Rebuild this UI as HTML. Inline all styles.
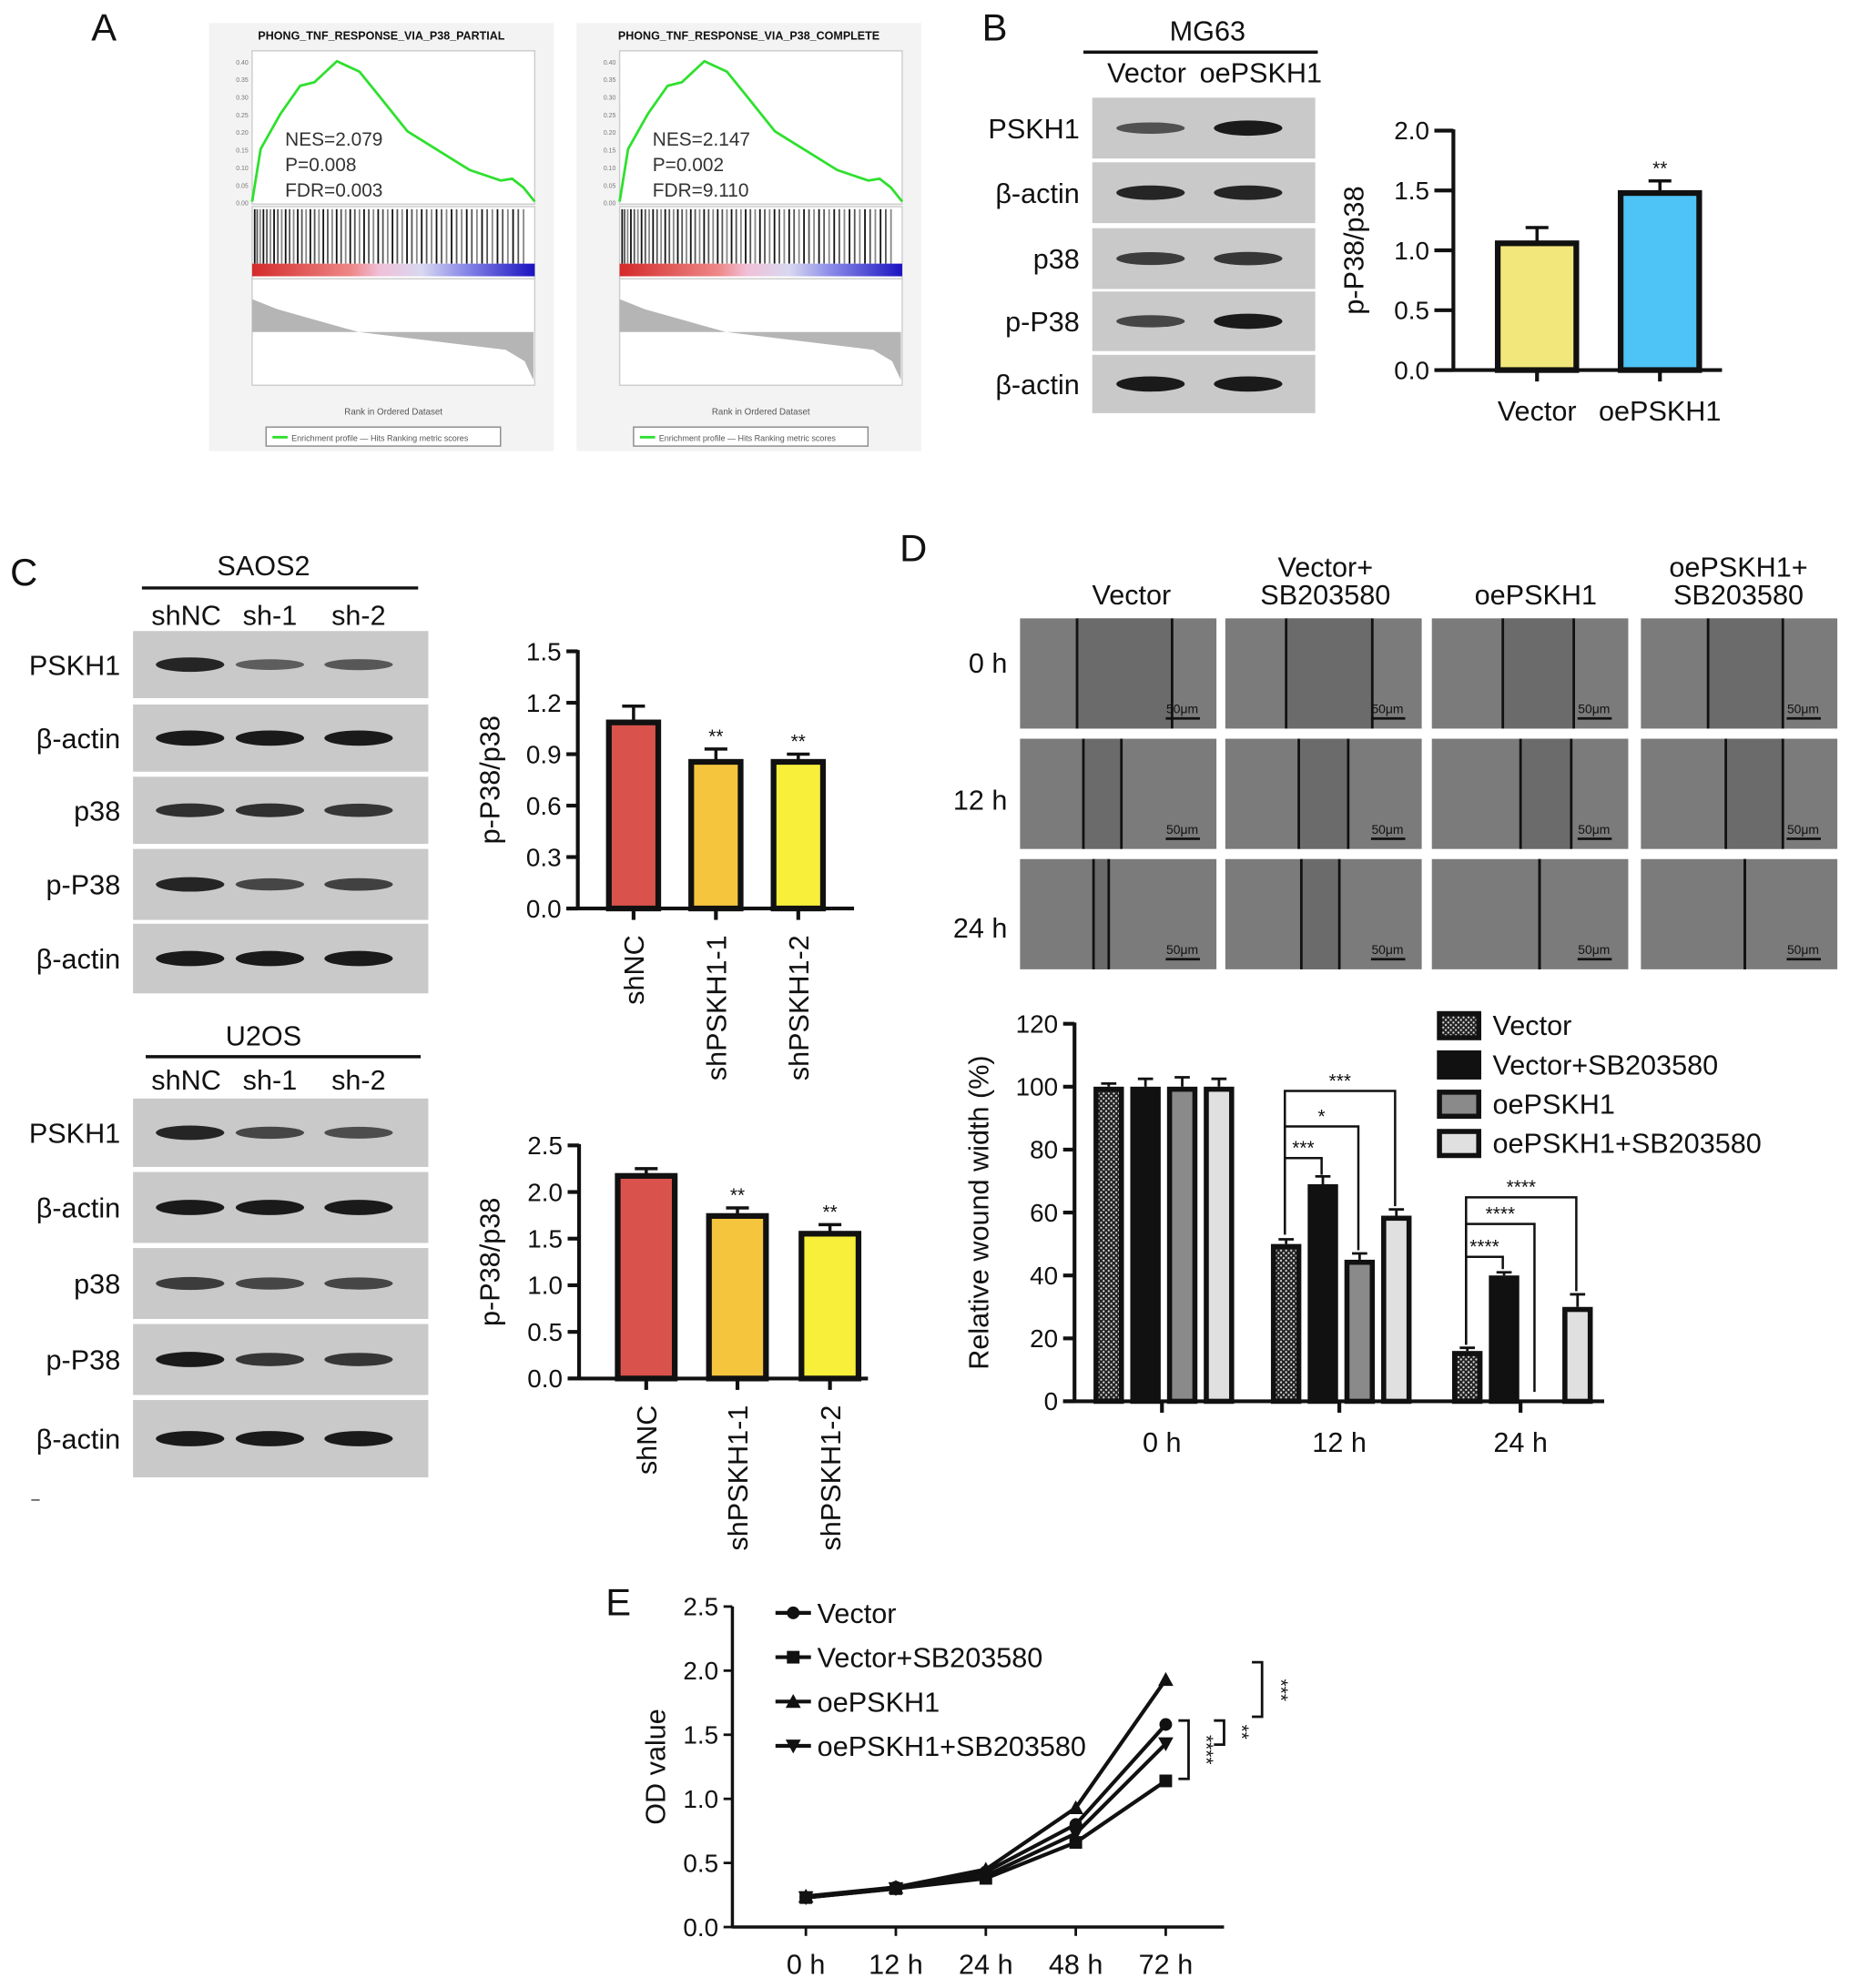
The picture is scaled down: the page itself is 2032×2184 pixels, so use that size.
<!DOCTYPE html>
<html><head><meta charset="utf-8">
<style>
html,body{margin:0;padding:0;background:#fff;}
svg{display:block;font-family:"Liberation Sans",Arial,sans-serif;}
</style></head>
<body>
<svg id="fig" width="2032" height="2184" viewBox="0 0 1460 1569" xmlns="http://www.w3.org/2000/svg">
<defs>
<pattern id="dots" width="4" height="4" patternUnits="userSpaceOnUse"><rect width="4" height="4" fill="#222"/><circle cx="1" cy="1" r="0.8" fill="#ddd"/><circle cx="3" cy="3" r="0.8" fill="#ddd"/></pattern>
</defs>
<g id="root"></g>
</svg>
<script>
// ===== data =====
const bCats = ["Vector","oePSKH1"];
const bVals = [1.08,1.5];
const bErr = [0.11,0.08];
const c1Cats = ["shNC","shPSKH1-1","shPSKH1-2"];
const c1Vals = [1.1,0.87,0.87];
const c1Err = [0.08,0.06,0.03];
const c2Vals = [2.2,1.77,1.58];
const c2Err = [0.05,0.06,0.07];
const dGroups = ["0 h","12 h","24 h"];
const dSeries = ["Vector","Vector+SB203580","oePSKH1","oePSKH1+SB203580"];
const dVals = [[100,50,16],[100,69,40],[100,45,0],[100,59,30]];
const dErr = [[1,1.5,1],[2.5,2.5,1],[3,2,0],[2.5,2,4]];
const eTimes = ["0 h","12 h","24 h","48 h","72 h"];
const eVector = [0.23,0.31,0.43,0.80,1.58];
const eVecSB = [0.23,0.30,0.38,0.66,1.14];
const eOe = [0.24,0.31,0.45,0.93,1.93];
const eOeSB = [0.23,0.30,0.40,0.73,1.43];
const esRank = [0,0.03,0.1,0.17,0.22,0.3,0.38,0.45,0.55,0.65,0.77,0.88,0.92,0.96,1];
const esVals = [0,0.15,0.25,0.33,0.34,0.4,0.37,0.3,0.2,0.15,0.09,0.06,0.065,0.04,0];

const NS="http://www.w3.org/2000/svg";
const root=document.getElementById('root');
function el(tag,attrs,parent,text){const e=document.createElementNS(NS,tag);for(const k in attrs)e.setAttribute(k,attrs[k]);if(text!==undefined)e.textContent=text;(parent||root).appendChild(e);return e;}
function txt(x,y,s,size,anchor,parent,extra){const a={x:x,y:y,'font-size':size,'text-anchor':anchor||'start',fill:'#111'};if(extra)for(const k in extra)a[k]=extra[k];return el('text',a,parent,s);}

// ===== Panel labels =====
[["A",72,32],["B",775,32],["C",8,462],["D",710,443],["E",478,1275]].forEach(p=>{
  const t=txt(p[1],p[2],p[0],30,'start');
  
  
});

// ===== Panel A: GSEA =====
function gsea(x0,title,nes,p,fdr,idx){
  const g=el('g',{},root);
  
  
  el('rect',{x:x0,y:18,width:272,height:338,fill:'#f3f3f3'},g);
  txt(x0+136,31,title,9,'middle',g,{'font-weight':'bold'});
  const px0=x0+34,pw=223;
  el('rect',{x:px0,y:40,width:pw,height:121,fill:'#fff',stroke:'#ccc'},g);
  for(let k=0;k<=8;k++)txt(px0-3,160-k*13.9+2,(k*0.05).toFixed(2),5,'end',g,{fill:'#777'});
  const pts=esRank.map((r,i)=>(px0+r*pw).toFixed(1)+','+(159-esVals[i]*277).toFixed(1));
  el('polyline',{points:pts.join(' '),fill:'none',stroke:'#2ee02e','stroke-width':2},g);
  txt(x0+60,115,'NES='+nes,15,'start',g,{fill:'#333'});
  txt(x0+60,135,'P='+p,15,'start',g,{fill:'#333'});
  txt(x0+60,155,'FDR='+fdr,15,'start',g,{fill:'#333'});
  el('rect',{x:px0,y:163,width:pw,height:57,fill:'#fff',stroke:'#ccc'},g);
  for(let i=0;i<60;i++){const xx=px0+2+Math.pow(i/60,1.15)*0.97*pw;el('line',{x1:xx,y1:165,x2:xx,y2:208,stroke:['#111','#555','#888'][i%3],'stroke-width':1.3},g);}
  const gr=el('linearGradient',{id:'gr'+idx},root);
  el('stop',{offset:'0','stop-color':'#d42a2a'},gr);el('stop',{offset:'0.35','stop-color':'#ee8888'},gr);el('stop',{offset:'0.45','stop-color':'#f0c0d8'},gr);el('stop',{offset:'0.6','stop-color':'#d8d8f0'},gr);el('stop',{offset:'0.75','stop-color':'#8a8ae8'},gr);el('stop',{offset:'1','stop-color':'#1a12c0'},gr);
  el('rect',{x:px0,y:208,width:pw,height:10,fill:'url(#gr'+idx+')'},g);
  el('rect',{x:px0,y:220,width:pw,height:84,fill:'#fff',stroke:'#ccc'},g);
  el('path',{d:`M${px0},236 L${px0+20},244 L${px0+84},262 L${px0+200},276 L${px0+215},285 L${px0+222},300 L${px0+222},262 L${px0},262 Z`,fill:'#b5b5b5'},g);
  txt(px0+pw/2,327,'Rank in Ordered Dataset',7,'middle',g,{fill:'#555'});
  el('rect',{x:x0+45,y:337,width:185,height:15,fill:'#fff',stroke:'#888'},g);
  el('line',{x1:x0+50,y1:345,x2:x0+62,y2:345,stroke:'#2ee02e','stroke-width':2},g);
  txt(x0+65,348,'Enrichment profile — Hits    Ranking metric scores',6.5,'start',g,{fill:'#555'});
}
gsea(165,'PHONG_TNF_RESPONSE_VIA_P38_PARTIAL','2.079','0.008','0.003',1);
gsea(455,'PHONG_TNF_RESPONSE_VIA_P38_COMPLETE','2.147','0.002','9.110',2);

// ===== blots =====
function blot(name,x0,rows,labels,colX,intens){
  const g=el('g',{},root);
  
  
  rows.forEach((r,i)=>{
    el('rect',{x:x0,y:r[0],width:r[2],height:r[1]-r[0],fill:'#c9c9c9'},g);
    const cy=(r[0]+r[1])/2;
    colX.forEach((cx,j)=>{const k=intens[i][j];el('ellipse',{cx:cx,cy:cy,rx:27,ry:3+k*3,fill:'#111','fill-opacity':0.35+0.6*k},g);});
    txt(x0-10,cy+8,labels[i],22,'end',g);
  });
}
blot('blot-mg63',862,[[77,125,176],[128,176,176],[180,228,176],[230,277,176],[280,326,176]],['PSKH1','β-actin','p38','p-P38','β-actin'],[908,985],[[0.5,1],[0.9,0.9],[0.7,0.75],[0.6,1],[1,1]]);
txt(953,32,'MG63',22,'middle');el('line',{x1:855,y1:41,x2:1040,y2:41,stroke:'#111','stroke-width':2.5});
txt(905,65,'Vector',22,'middle');txt(995,65,'oePSKH1',22,'middle');

blot('blot-saos2',105,[[498,551,233],[556,609,233],[613,666,233],[670,726,233],[729,784,233]],['PSKH1','β-actin','p38','p-P38','β-actin'],[150,213,283],[[0.9,0.4,0.45],[1,1,1],[0.8,0.8,0.75],[0.9,0.6,0.65],[1,1,1]]);
txt(208,454,'SAOS2',22,'middle');el('line',{x1:112,y1:464,x2:330,y2:464,stroke:'#111','stroke-width':2.5});
txt(147,493,'shNC',22,'middle');txt(213,493,'sh-1',22,'middle');txt(283,493,'sh-2',22,'middle');

blot('blot-u2os',105,[[867,921,233],[925,981,233],[985,1041,233],[1045,1101,233],[1105,1166,233]],['PSKH1','β-actin','p38','p-P38','β-actin'],[150,213,283],[[0.9,0.6,0.55],[1,1,1],[0.7,0.6,0.6],[1,0.75,0.75],[1,1,1]]);
txt(208,825,'U2OS',22,'middle');el('line',{x1:115,y1:834,x2:332,y2:834,stroke:'#111','stroke-width':2.5});
txt(147,860,'shNC',22,'middle');txt(213,860,'sh-1',22,'middle');txt(283,860,'sh-2',22,'middle');
txt(28,1187,'–',12,'middle');

// ===== bar chart helper =====
function barChart(opt){
  const g=el('g',{},root);
  
  
  const y=v=>opt.y0-(v/opt.max)*(opt.y0-opt.yTop);
  el('line',{x1:opt.ax,y1:opt.yTop-1,x2:opt.ax,y2:opt.y0+1,stroke:'#111','stroke-width':3},g);
  el('line',{x1:opt.ax-opt.tl,y1:opt.y0,x2:opt.xEnd,y2:opt.y0,stroke:'#111','stroke-width':3},g);
  opt.ticks.forEach(t=>{el('line',{x1:opt.ax-opt.tl,y1:y(t),x2:opt.ax,y2:y(t),stroke:'#111','stroke-width':3},g);txt(opt.ax-opt.tl-4,y(t)+7,t.toFixed(1),20,'end',g);});
  const ttl=txt(0,0,opt.ytitle,22,'middle',g,{transform:`translate(${opt.tx},${(opt.y0+opt.yTop)/2}) rotate(-90)`});
  
  
  opt.vals.forEach((v,i)=>{
    const cx=opt.cx[i];
    el('line',{x1:cx,y1:y(v),x2:cx,y2:y(v+opt.err[i]),stroke:'#111','stroke-width':2.5},g);
    el('line',{x1:cx-9,y1:y(v+opt.err[i]),x2:cx+9,y2:y(v+opt.err[i]),stroke:'#111','stroke-width':2.5},g);
    const r=el('rect',{x:cx-opt.bw/2+2,y:y(v)+2,width:opt.bw-4,height:opt.y0-y(v)-2,fill:opt.colors[i],stroke:'#111','stroke-width':4.5},g);
    
    
    el('line',{x1:cx,y1:opt.y0,x2:cx,y2:opt.y0+9,stroke:'#111','stroke-width':3},g);
    if(opt.stars[i])txt(cx,y(v+opt.err[i])-5,opt.stars[i],15,'middle',g);
    if(opt.rot)txt(0,0,opt.cats[i],22,'end',g,{transform:`translate(${cx+8},${opt.y0+21}) rotate(-90)`});
    else txt(cx,opt.y0+40,opt.cats[i],22,'middle',g);
  });
}
barChart({name:'chart-b-mg63',ax:1147,y0:292,yTop:103,max:2.0,xEnd:1359,tl:15,tx:1076,ticks:[0,0.5,1,1.5,2],ytitle:'p-P38/p38',vals:bVals,err:bErr,cats:bCats,cx:[1213,1310],bw:66,colors:['#f2e77b','#4ec3f5'],stars:['','**'],rot:false});
barChart({name:'chart-c-saos2',ax:456,y0:717,yTop:514,max:1.5,xEnd:674,tl:9,tx:394,ticks:[0,0.3,0.6,0.9,1.2,1.5],ytitle:'p-P38/p38',vals:c1Vals,err:c1Err,cats:c1Cats,cx:[500,565,630],bw:43,colors:['#d9534c','#f5c53e','#f7ef3a'],stars:['','**','**'],rot:true});
barChart({name:'chart-c-u2os',ax:457,y0:1088,yTop:904,max:2.5,xEnd:685,tl:9,tx:394,ticks:[0,0.5,1,1.5,2,2.5],ytitle:'p-P38/p38',vals:c2Vals,err:c2Err,cats:c1Cats,cx:[510,582,655],bw:49,colors:['#d9534c','#f5c53e','#f7ef3a'],stars:['','**','**'],rot:true});

// ===== Panel D images =====
const colX=[805,967,1130,1295],rowY=[488,583,678];
const lines=[[[45,120],[50,80],[58,70]],[[48,116],[58,97],[60,90]],[[56,112],[70,110],[85,85]],[[53,112],[67,112],[82,82]]];
const gi=el('g',{},root);


colX.forEach((x,c)=>rowY.forEach((yy,r)=>{
  el('rect',{x:x,y:yy,width:155,height:87,fill:'#7b7b7b'},gi);
  const L=lines[c][r];
  el('rect',{x:x+L[0],y:yy,width:L[1]-L[0],height:87,fill:'#6b6b6b'},gi);
  el('line',{x1:x+L[0],y1:yy,x2:x+L[0],y2:yy+87,stroke:'#111','stroke-width':2},gi);
  el('line',{x1:x+L[1],y1:yy,x2:x+L[1],y2:yy+87,stroke:'#111','stroke-width':2},gi);
  txt(x+128,yy+75,'50μm',10,'middle',gi);
  el('line',{x1:x+115,y1:yy+79,x2:x+142,y2:yy+79,stroke:'#111','stroke-width':2},gi);
}));
[['Vector',893,477],['Vector+',1046,455],['SB203580',1046,477],['oePSKH1',1212,477],['oePSKH1+',1372,455],['SB203580',1372,477]].forEach(a=>txt(a[1],a[2],a[0],22,'middle'));
[['0 h',531],['12 h',639],['24 h',740]].forEach(a=>txt(795,a[1],a[0],22,'end'));

// ===== Panel D chart =====
(function(){
  const g=el('g',{},root);
  
  
  const ax=848,y0=1106,yTop=808,max=120;
  const y=v=>y0-v/max*(y0-yTop);
  el('line',{x1:ax,y1:yTop-1,x2:ax,y2:y0+1,stroke:'#111','stroke-width':3},g);
  el('line',{x1:ax-9,y1:y0,x2:1266,y2:y0,stroke:'#111','stroke-width':3},g);
  for(let t=0;t<=120;t+=20){el('line',{x1:ax-9,y1:y(t),x2:ax,y2:y(t),stroke:'#111','stroke-width':3},g);txt(ax-13,y(t)+7,String(t),20,'end',g);}
  txt(0,0,'Relative wound width (%)',22,'middle',g,{transform:`translate(780,${(y0+yTop)/2}) rotate(-90)`});
  const gc=[917,1057,1200],fills=['url(#dots)','#111','#8a8a8a','#e0e0e0'],off=[-42,-13,16,45];
  dGroups.forEach((gn,gi2)=>{
    el('line',{x1:gc[gi2],y1:y0,x2:gc[gi2],y2:y0+9,stroke:'#111','stroke-width':3},g);
    txt(gc[gi2],y0+40,gn,22,'middle',g);
    dSeries.forEach((s,si)=>{
      const v=dVals[si][gi2],e=dErr[si][gi2],cx=gc[gi2]+off[si];
      if(v<=0)return;
      el('line',{x1:cx,y1:y(v),x2:cx,y2:y(v+e),stroke:'#111','stroke-width':2},g);
      el('line',{x1:cx-6,y1:y(v+e),x2:cx+6,y2:y(v+e),stroke:'#111','stroke-width':2},g);
      const r=el('rect',{x:cx-10,y:y(v)+2,width:20,height:y0-y(v)-2,fill:fills[si],stroke:'#111','stroke-width':4},g);
      
      
    });
  });
  function br(x1,x2,yy,yl,yr,s){el('polyline',{points:`${x1},${y(yl)} ${x1},${yy} ${x2},${yy} ${x2},${y(yr)}`,fill:'none',stroke:'#111','stroke-width':1.8},g);txt((x1+x2)/2,yy-3,s,15,'middle',g);}
  br(1014,1101,861,53,62,'***');br(1014,1072,889,53,48,'*');br(1014,1043,914,53,72,'***');
  br(1157,1244,945,18,35,'****');br(1157,1211,966,18,3,'****');br(1157,1186,992,18,42,'****');
  const lg=el('g',{},g);
  
  
  dSeries.forEach((s,i)=>{el('rect',{x:1136,y:800+i*31,width:31,height:19,fill:fills[i],stroke:'#111','stroke-width':4},lg);txt(1178,817+i*31,s,22,'start',lg);});
})();

// ===== Panel E =====
(function(){
  const g=el('g',{},root);
  
  
  const ax=578,y0=1521,yTop=1268,max=2.5;
  const y=v=>y0-v/max*(y0-yTop);
  const xs=i=>636+i*71;
  el('line',{x1:ax,y1:yTop,x2:ax,y2:y0+1,stroke:'#111','stroke-width':2.5},g);
  el('line',{x1:ax,y1:y0,x2:966,y2:y0,stroke:'#111','stroke-width':2.5},g);
  for(let t=0;t<=2.5001;t+=0.5){el('line',{x1:ax-7,y1:y(t),x2:ax,y2:y(t),stroke:'#111','stroke-width':2},g);txt(ax-11,y(t)+7,t.toFixed(1),20,'end',g);}
  txt(0,0,'OD value',22,'middle',g,{transform:`translate(525,${(y0+yTop)/2}) rotate(-90)`});
  eTimes.forEach((t,i)=>{el('line',{x1:xs(i),y1:y0,x2:xs(i),y2:y0+7,stroke:'#111','stroke-width':2},g);txt(xs(i),y0+37,t,22,'middle',g);});
  const series=[eVector,eVecSB,eOe,eOeSB],names=['Vector','Vector+SB203580','oePSKH1','oePSKH1+SB203580'];
  function mark(cx,cy,k,p){
    if(k===0)el('circle',{cx:cx,cy:cy,r:5,fill:'#111'},p);
    else if(k===1)el('rect',{x:cx-5,y:cy-5,width:10,height:10,fill:'#111'},p);
    else if(k===2)el('polygon',{points:`${cx},${cy-6} ${cx+6},${cy+5} ${cx-6},${cy+5}`,fill:'#111'},p);
    else el('polygon',{points:`${cx},${cy+6} ${cx+6},${cy-5} ${cx-6},${cy-5}`,fill:'#111'},p);
  }
  series.forEach((s,k)=>{
    const sg=el('g',{},g);
    
    
    el('polyline',{points:s.map((v,i)=>xs(i)+','+y(v)).join(' '),fill:'none',stroke:'#111','stroke-width':3},sg);
    s.forEach((v,i)=>mark(xs(i),y(v),k,sg));
  });
  const lg=el('g',{},g);
  
  
  names.forEach((n,k)=>{const yy=1273+k*35;el('line',{x1:612,y1:yy,x2:640,y2:yy,stroke:'#111','stroke-width':3},lg);mark(626,yy,k,lg);txt(645,yy+8,n,22,'start',lg);});
  el('polyline',{points:'988,1312 996,1312 996,1355 988,1355',fill:'none',stroke:'#111','stroke-width':2},g);
  txt(0,0,'***',15,'middle',g,{transform:'translate(1006,1334) rotate(90)'});
  el('polyline',{points:'958,1358 966,1358 966,1377 958,1377',fill:'none',stroke:'#111','stroke-width':2},g);
  txt(0,0,'**',15,'middle',g,{transform:'translate(975,1367) rotate(90)'});
  el('polyline',{points:'930,1358 938,1358 938,1404 930,1404',fill:'none',stroke:'#111','stroke-width':2},g);
  txt(0,0,'****',15,'middle',g,{transform:'translate(947,1381) rotate(90)'});
})();
</script>
</body></html>
